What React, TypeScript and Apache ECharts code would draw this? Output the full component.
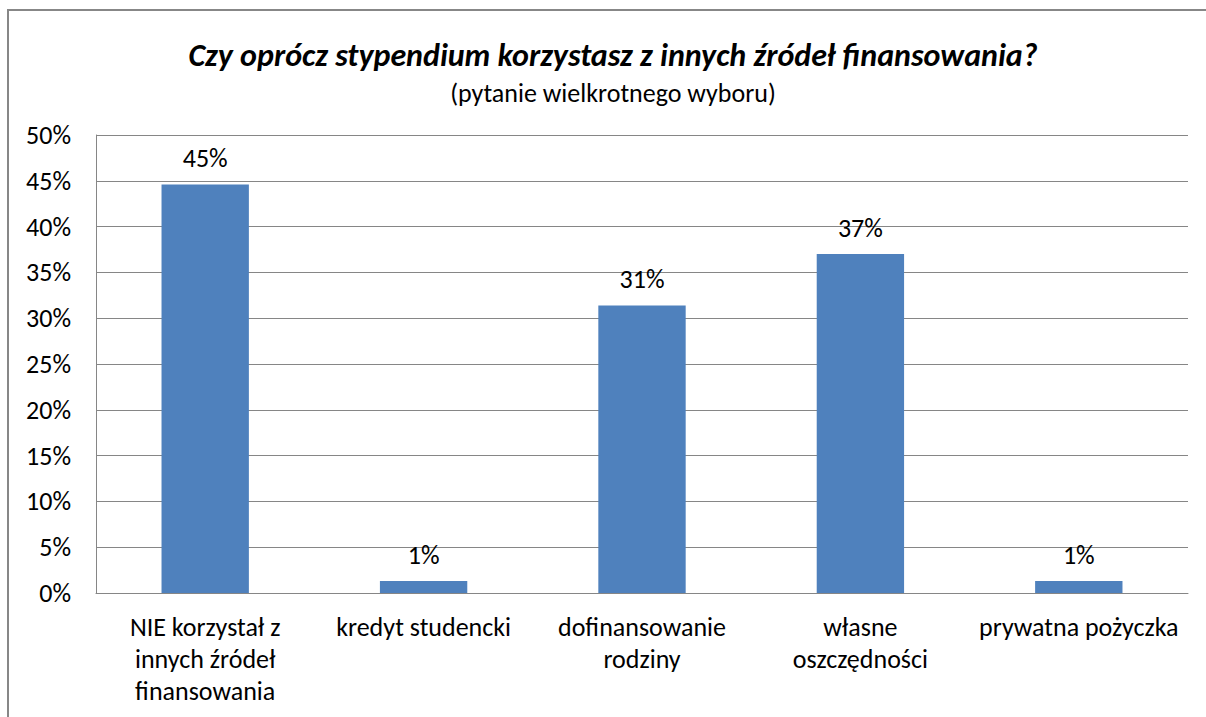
import React, { useEffect, useRef } from "react";
import * as echarts from "echarts";

const titleText = "Czy oprócz stypendium korzystasz z innych źródeł finansowania?";
const subtitleText = "(pytanie wielkrotnego wyboru)";
const categories = [
  "NIE korzystał z\ninnych źródeł\nfinansowania",
  "kredyt studencki",
  "dofinansowanie\nrodziny",
  "własne\noszczędności",
  "prywatna pożyczka",
];
const values = [44.6, 1.3, 31.4, 37.0, 1.3];
const yMin = 0;
const yMax = 50;
const yInterval = 5;

const FONT = "Calibri, Carlito, 'Open Sans', sans-serif";

export default function App() {
  const ref = useRef<HTMLDivElement>(null);
  useEffect(() => {
    document.body.style.overflow = "hidden";
    if (!ref.current) return;
    const chart = echarts.init(ref.current, null, { renderer: "svg" });
    chart.setOption({
      animation: false,
      backgroundColor: "#ffffff",
      title: [
        {
          text: titleText,
          left: "center",
          top: 20,
          textStyle: {
            fontFamily: FONT,
            fontSize: 32,
            fontWeight: "bold",
            fontStyle: "italic",
            color: "#000000",
            lineHeight: 38,
          },
        },
        {
          text: subtitleText,
          left: "center",
          top: 61,
          textStyle: {
            fontFamily: FONT,
            fontSize: 26,
            fontWeight: "normal",
            color: "#000000",
            lineHeight: 32,
          },
        },
      ],
      grid: { left: 87, top: 124, width: 1092, height: 458 },
      xAxis: {
        type: "category",
        data: categories,
        axisLine: { show: true, lineStyle: { color: "#868686", width: 1 } },
        axisTick: { show: false },
        axisLabel: {
          interval: 0,
          margin: 18,
          color: "#000000",
          fontFamily: FONT,
          fontSize: 26,
          lineHeight: 32,
          verticalAlign: "top",
        },
      },
      yAxis: {
        type: "value",
        min: yMin,
        max: yMax,
        interval: yInterval,
        axisLine: { show: true, lineStyle: { color: "#868686", width: 1 } },
        axisTick: { show: false },
        splitLine: { show: true, lineStyle: { color: "#868686", width: 1 } },
        axisLabel: {
          margin: 25,
          color: "#000000",
          fontFamily: FONT,
          fontSize: 26,
          formatter: (v: number) => `${v}%`,
        },
      },
      series: [
        {
          type: "bar",
          data: values,
          barWidth: "40%",
          itemStyle: { color: "#4F81BD" },
          label: {
            show: true,
            position: "top",
            distance: 13,
            color: "#000000",
            fontFamily: FONT,
            fontSize: 26,
            lineHeight: 26,
            formatter: (p: any) => `${Math.round(p.value)}%`,
          },
        },
      ],
    });
    return () => chart.dispose();
  }, []);

  return (
    <div
      style={{
        position: "fixed",
        left: 0,
        top: 0,
        width: 1206,
        height: 717,
        overflow: "hidden",
        background: "#ffffff",
      }}
    >
      <div
        style={{
          position: "absolute",
          left: 7,
          top: 9,
          width: 1208,
          height: 740,
          borderLeft: "2px solid #878787",
          borderTop: "2px solid #878787",
        }}
      >
        <div ref={ref} style={{ width: 1208, height: 740 }} />
      </div>
    </div>
  );
}
